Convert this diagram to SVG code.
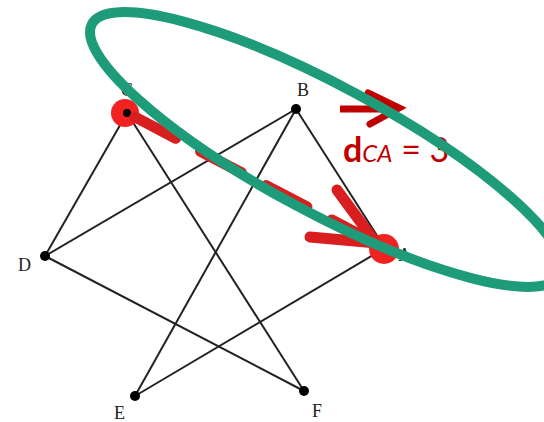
<svg xmlns="http://www.w3.org/2000/svg" width="544" height="422" viewBox="0 0 544 422">
<style>
.edge{stroke:#222;stroke-width:2;fill:none}
.dot{fill:#000}
.lbl{font-family:"Liberation Serif",serif;font-size:18px;fill:#222}
.hl{fill:#f22222}
.red{stroke:#d81e1e;stroke-width:11;fill:none;stroke-linecap:round}
.vec{stroke:#c00000;stroke-width:7;fill:none}
</style>
<rect width="544" height="422" fill="#fff"/>
<g id="connectors">
<line class="edge" x1="127" y1="113" x2="45" y2="256"/>
<line class="edge" x1="127" y1="113" x2="304" y2="391"/>
<line class="edge" x1="296" y1="109" x2="45" y2="256"/>
<line class="edge" x1="296" y1="109" x2="135" y2="396"/>
<line class="edge" x1="296" y1="109" x2="385" y2="248"/>
<line class="edge" x1="45" y1="256" x2="304" y2="391"/>
<line class="edge" x1="135" y1="396" x2="385" y2="248"/>
</g>
<g id="node-C"><text class="lbl" x="121" y="96">C</text><circle class="hl" cx="125" cy="113" r="14"/><circle class="dot" cx="127" cy="113" r="4"/></g>
<g id="node-B"><circle class="dot" cx="296" cy="109" r="5"/><text class="lbl" x="297" y="96">B</text></g>
<g id="node-D"><circle class="dot" cx="45" cy="256" r="5"/><text class="lbl" x="18" y="271">D</text></g>
<g id="node-A"><text class="lbl" x="398" y="261">A</text><circle class="hl" cx="384" cy="249" r="15"/><circle class="dot" cx="385" cy="248" r="3"/></g>
<g id="node-E"><circle class="dot" cx="135" cy="396" r="5"/><text class="lbl" x="114" y="419">E</text></g>
<g id="node-F"><circle class="dot" cx="304" cy="391" r="5"/><text class="lbl" x="312" y="417">F</text></g>
<g id="distance-arrow">
<line class="red" x1="135" y1="117" x2="372" y2="241" stroke-dasharray="46 28" stroke-linecap="butt"/>
<polyline class="red" points="337,190 376,243 310,237"/>
</g>
<g id="label">
<line class="vec" x1="340" y1="109" x2="392" y2="109"/>
<polyline class="vec" points="368,93 399,108 370,124" stroke-linecap="round" stroke-width="8"/>
<text x="343" y="162" font-family="Lato,sans-serif" fill="#c00000"><tspan font-weight="bold" font-size="34">d</tspan><tspan font-style="italic" font-size="24">CA</tspan><tspan font-size="34"> = 3</tspan></text>
</g>
<g id="ellipse">
<ellipse cx="326" cy="149.5" rx="265.6" ry="63.5" transform="rotate(28.2 326 149.5)" fill="none" stroke="#1e9b78" stroke-width="10"/>
</g>
</svg>
